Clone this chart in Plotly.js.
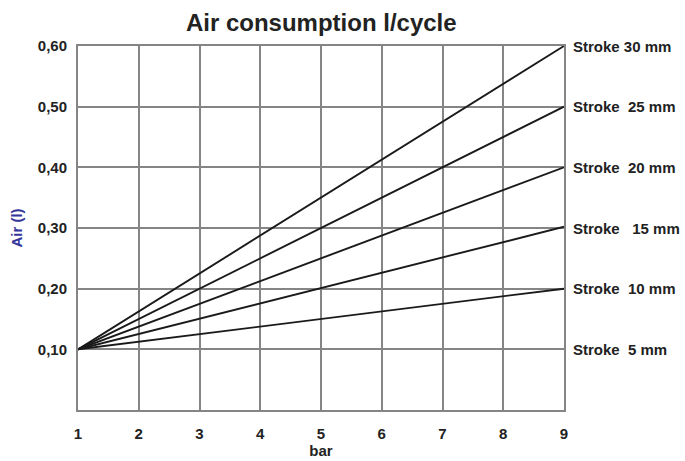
<!DOCTYPE html>
<html><head><meta charset="utf-8">
<script src="https://cdn.plot.ly/plotly-3.0.1.min.js"></script>
<style>html,body{margin:0;padding:0;background:#fff}</style>
</head><body><div id="chart" style="width:685px;height:461px"></div>
<script>
const pressure = [1, 9];
const stroke30 = [0.10, 0.60];
const stroke25 = [0.10, 0.50];
const stroke20 = [0.10, 0.40];
const stroke15 = [0.10, 0.302];
const stroke10 = [0.10, 0.20];
const labelNames = ["Stroke 30 mm", "Stroke  25 mm", "Stroke  20 mm", "Stroke   15 mm", "Stroke  10 mm", "Stroke  5 mm"];
const labelLevels = [0.60, 0.50, 0.40, 0.30, 0.20, 0.10];
const yTickVals = [0.10, 0.20, 0.30, 0.40, 0.50, 0.60];
const yTickText = ["0,10", "0,20", "0,30", "0,40", "0,50", "0,60"];
const xTickVals = [1, 2, 3, 4, 5, 6, 7, 8, 9];

const series = [stroke30, stroke25, stroke20, stroke15, stroke10];
const traces = series.map(s => ({
  x: pressure, y: s, type: 'scatter', mode: 'lines',
  line: {color: '#1a1a1a', width: 1.9}, hoverinfo: 'skip', showlegend: false
}));

const FAM = 'Liberation Sans, Arial, sans-serif';
const font = {family: FAM, size: 15, color: '#222'};
const annotations = labelNames.map((t, i) => ({
  x: 9, y: labelLevels[i], xref: 'x', yref: 'y', text: '<b>' + t + '</b>',
  showarrow: false, xanchor: 'left', yanchor: 'middle', xshift: 7,
  font: font
}));

const layout = {
  width: 685, height: 461,
  margin: {l: 78, r: 121, t: 46, b: 51},
  paper_bgcolor: '#fff', plot_bgcolor: '#fff',
  title: {text: '<b>Air consumption l/cycle</b>', x: 0.469, xanchor: 'center', y: 0.95, yanchor: 'middle',
    font: {family: FAM, size: 24, color: '#222'}},
  xaxis: {
    range: [1, 9], tickvals: xTickVals, ticktext: xTickVals.map(String),
    showgrid: true, gridcolor: '#858585', gridwidth: 2,
    showline: true, linecolor: '#858585', linewidth: 2, mirror: true,
    zeroline: false, ticks: '', ticklabelstandoff: 9,
    tickfont: {family: FAM, size: 15, color: '#222', weight: 'bold'},
    title: {text: '<b>bar</b>', standoff: 0, font: {family: FAM, size: 15, color: '#222'}}
  },
  yaxis: {
    range: [0, 0.6], tickvals: yTickVals, ticktext: yTickText,
    showgrid: true, gridcolor: '#858585', gridwidth: 2,
    showline: true, linecolor: '#858585', linewidth: 2, mirror: true,
    zeroline: false, ticks: '', ticklabelstandoff: 6,
    tickfont: {family: FAM, size: 15, color: '#222', weight: 'bold'},
    title: {text: '<b>Air (l)</b>', standoff: 12, font: {family: FAM, size: 15, color: '#34349a'}}
  },
  annotations: annotations
};
Plotly.newPlot('chart', traces, layout, {displayModeBar: false, staticPlot: true});
</script></body></html>
